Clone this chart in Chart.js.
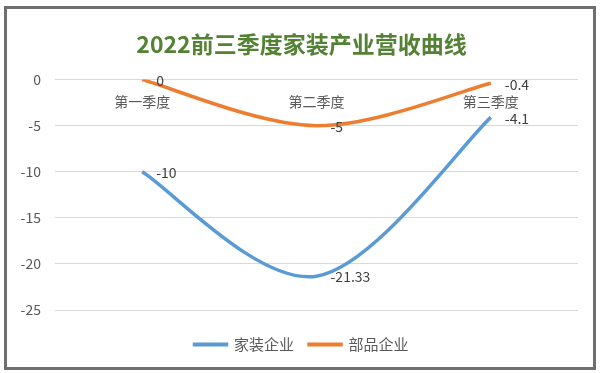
<!DOCTYPE html>
<html>
<head>
<meta charset="utf-8">
<script src="https://cdn.jsdelivr.net/npm/chart.js@4/dist/chart.umd.min.js"></script>
<style>
html,body{margin:0;padding:0;background:#fff;}
#wrap{position:absolute;left:0;top:0;width:600px;height:373px;}
#frame{position:absolute;left:4px;top:6px;width:592px;height:364px;box-sizing:border-box;border:3px solid #6f6f6f;pointer-events:none;}
canvas{display:block;}
</style>
</head>
<body>
<div id="wrap"><canvas id="c" width="600" height="373"></canvas></div>
<div id="frame"></div>
<script>
const categories = ['第一季度', '第二季度', '第三季度'];
const homeDecor = [-10, -21.33, -4.1];     // 家装企业
const parts = [0, -5, -0.4];               // 部品企业
const seriesNames = ['家装企业', '部品企业'];
const yTicks = [0, -5, -10, -15, -20, -25];
const chartTitle = '2022前三季度家装产业营收曲线';

const FONT = '"Noto Sans CJK SC", "Noto Sans", sans-serif';

// Excel-like smoothing (Catmull-Rom control points) applied to Chart.js line elements
const excelSmooth = {
  id: 'excelSmooth',
  beforeDatasetDraw(chart, args) {
    const meta = args.meta;
    const line = meta.dataset;
    const pts = meta.data;
    line.updateControlPoints(chart.chartArea, meta.indexAxis);
    for (let i = 0; i < pts.length; i++) {
      const p = pts[i];
      const prev = pts[i - 1] || p;
      const next = pts[i + 1] || p;
      const dx = (next.x - prev.x) / 6;
      const dy = (next.y - prev.y) / 6;
      p.cp1x = p.x - dx; p.cp1y = p.y - dy;
      p.cp2x = p.x + dx; p.cp2y = p.y + dy;
    }
    line._path = undefined;
  }
};

const dataLabels = {
  id: 'dataLabels',
  afterDatasetsDraw(chart) {
    const ctx = chart.ctx;
    ctx.save();
    ctx.font = '14px ' + FONT;
    ctx.fillStyle = '#404040';
    ctx.textAlign = 'left';
    ctx.textBaseline = 'middle';
    chart.data.datasets.forEach((ds, i) => {
      const meta = chart.getDatasetMeta(i);
      meta.data.forEach((pt, j) => {
        ctx.fillText(String(ds.data[j]), pt.x + 14, pt.y + 1);
      });
    });
    ctx.restore();
  }
};

new Chart(document.getElementById('c'), {
  type: 'line',
  data: {
    labels: categories,
    datasets: [
      { label: seriesNames[0], data: homeDecor, borderColor: '#5B9BD5', backgroundColor: '#5B9BD5', borderWidth: 3.5, pointRadius: 0, tension: 0.4, fill: false, yAxisID: 'y' },
      { label: seriesNames[1], data: parts, borderColor: '#ED7D31', backgroundColor: '#ED7D31', borderWidth: 3.5, pointRadius: 0, tension: 0.4, fill: false, yAxisID: 'y' }
    ]
  },
  options: {
    responsive: false,
    animation: false,
    layout: { padding: { left: 10, right: 7, top: 18, bottom: 11 } },
    plugins: {
      title: {
        display: true,
        text: chartTitle,
        color: '#548235',
        font: { family: FONT, size: 23, weight: 'bold' },
        padding: { top: 12, bottom: 22 }
      },
      legend: {
        position: 'bottom',
        title: { display: true, text: '', font: { size: 10 }, padding: 0 },
        labels: {
          boxWidth: 32,
          boxHeight: 0.5,
          color: '#595959',
          font: { family: FONT, size: 15 },
          padding: 15
        }
      },
      tooltip: { enabled: false }
    },
    scales: {
      x: {
        position: { y: 0 },
        offset: true,
        grid: { display: false, drawTicks: false },
        border: { display: false },
        ticks: { color: '#595959', font: { family: FONT, size: 14 }, padding: 14 }
      },
      y: {
        min: -25,
        max: 0,
        afterBuildTicks(scale) { scale.ticks = yTicks.map(v => ({ value: v })); },
        grid: { color: '#d9d9d9', lineWidth: 1, drawTicks: false },
        border: { display: false },
        ticks: { color: '#595959', font: { family: FONT, size: 14 }, padding: 14 },
        afterFit(scale) { scale.width = 45; }
      },
      y2: {
        position: 'right',
        min: -25,
        max: 0,
        grid: { display: false, drawTicks: false },
        border: { display: false },
        ticks: { display: false },
        afterFit(scale) { scale.width = 15; }
      }
    }
  },
  plugins: [excelSmooth, dataLabels]
});
</script>
</body>
</html>
